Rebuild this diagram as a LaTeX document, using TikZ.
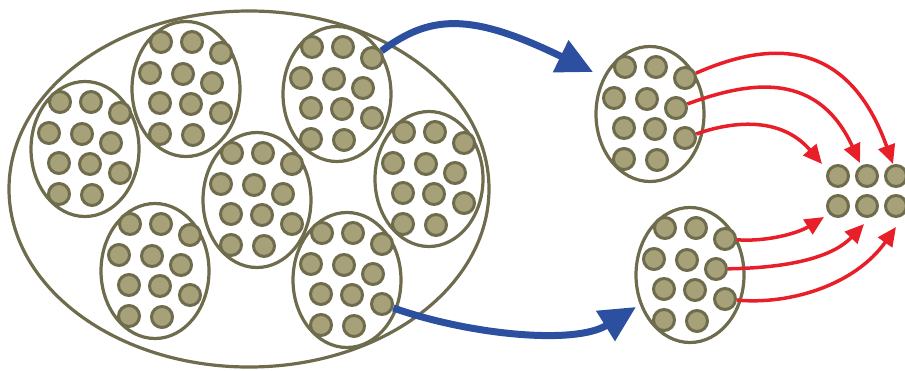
\documentclass[tikz,border=0pt]{standalone}
\usetikzlibrary{shapes.geometric,arrows.meta}
\definecolor{strandline}{HTML}{6E6C4C}
\definecolor{strandfill}{HTML}{A7A17A}
\definecolor{fibreblue}{HTML}{2C4FA0}
\definecolor{fibrered}{HTML}{E81E28}
\begin{document}
\begin{tikzpicture}[x=1pt,y=-1pt]
        \tikzstyle{bundle}=[ellipse, draw=strandline, line width=3.2pt, minimum width=108pt, minimum height=135pt, inner sep=0pt]
        \tikzstyle{strand}=[circle, draw=strandline, fill=strandfill, line width=3pt, minimum size=21pt, inner sep=0pt]
        \tikzstyle{bluearrow}=[draw=fibreblue, line width=7pt, -{Triangle[length=36pt,width=34pt]}]
        \tikzstyle{redarrow}=[draw=fibrered, line width=3.5pt, -{Triangle[length=19pt,width=17pt]}]

        \useasboundingbox (0,0) rectangle (905,370);

        % outer cable
        \node[ellipse, draw=strandline, line width=3.2pt, minimum width=480pt, minimum height=356pt, inner sep=0pt] (cable) at (249,189) {};

        % bundles
        \foreach \b/\x/\y in {b1/85/149, b2/186/89, b3/337/94, b4/257/200, b5/429/179, b6/155/271, b7/347/280, r1/650/114, r2/690/275}
            \node[bundle] (\b) at (\x,\y) {};
        \foreach \b/\x/\y in {b1/85/149, b2/186/89, b3/337/94, b4/257/200, b5/429/179, b6/155/271, b7/347/280, r1/650/114, r2/690/275}
            \foreach \dx/\dy [count=\i] in {-25/-47, 6/-47, 35/-36, -36/-16, -3/-15, 26/-6, -26/14, 5/15, 35/24, -26/45, 7/46}
                \node[strand] (\b-\i) at (\x+\dx,\y+\dy) {};

        % end group
        \node[strand] (c1) at (838,176) {};
        \node[strand] (c2) at (867,176) {};
        \node[strand] (c3) at (896,176) {};
        \node[strand] (c4) at (838,206) {};
        \node[strand] (c5) at (867,206) {};
        \node[strand] (c6) at (896,206) {};

        % arrow tips
        \coordinate (tipa) at (593,72);
        \coordinate (tipb) at (636,307);
        \coordinate (tipc) at (893,164);
        \coordinate (tipd) at (860,163);
        \coordinate (tipe) at (822,164);
        \coordinate (tipf) at (824,217);
        \coordinate (tipg) at (864,224);
        \coordinate (tiph) at (896,227);

        \draw[bluearrow] (b3-3) .. controls (430,15) and (470,12) .. (tipa);
        \draw[bluearrow] (b7-9) .. controls (470,335) and (575,345) .. (tipb);

        \draw[redarrow] (r1-3) .. controls (760,45) and (845,30) .. (tipc);
        \draw[redarrow] (r1-6) .. controls (740,85) and (815,65) .. (tipd);
        \draw[redarrow] (r1-9) .. controls (730,122) and (780,115) .. (tipe);
        \draw[redarrow] (r2-3) .. controls (770,242) and (800,232) .. (tipf);
        \draw[redarrow] (r2-6) .. controls (780,268) and (830,260) .. (tipg);
        \draw[redarrow] (r2-9) .. controls (790,305) and (855,285) .. (tiph);
    \end{tikzpicture}
\end{document}
